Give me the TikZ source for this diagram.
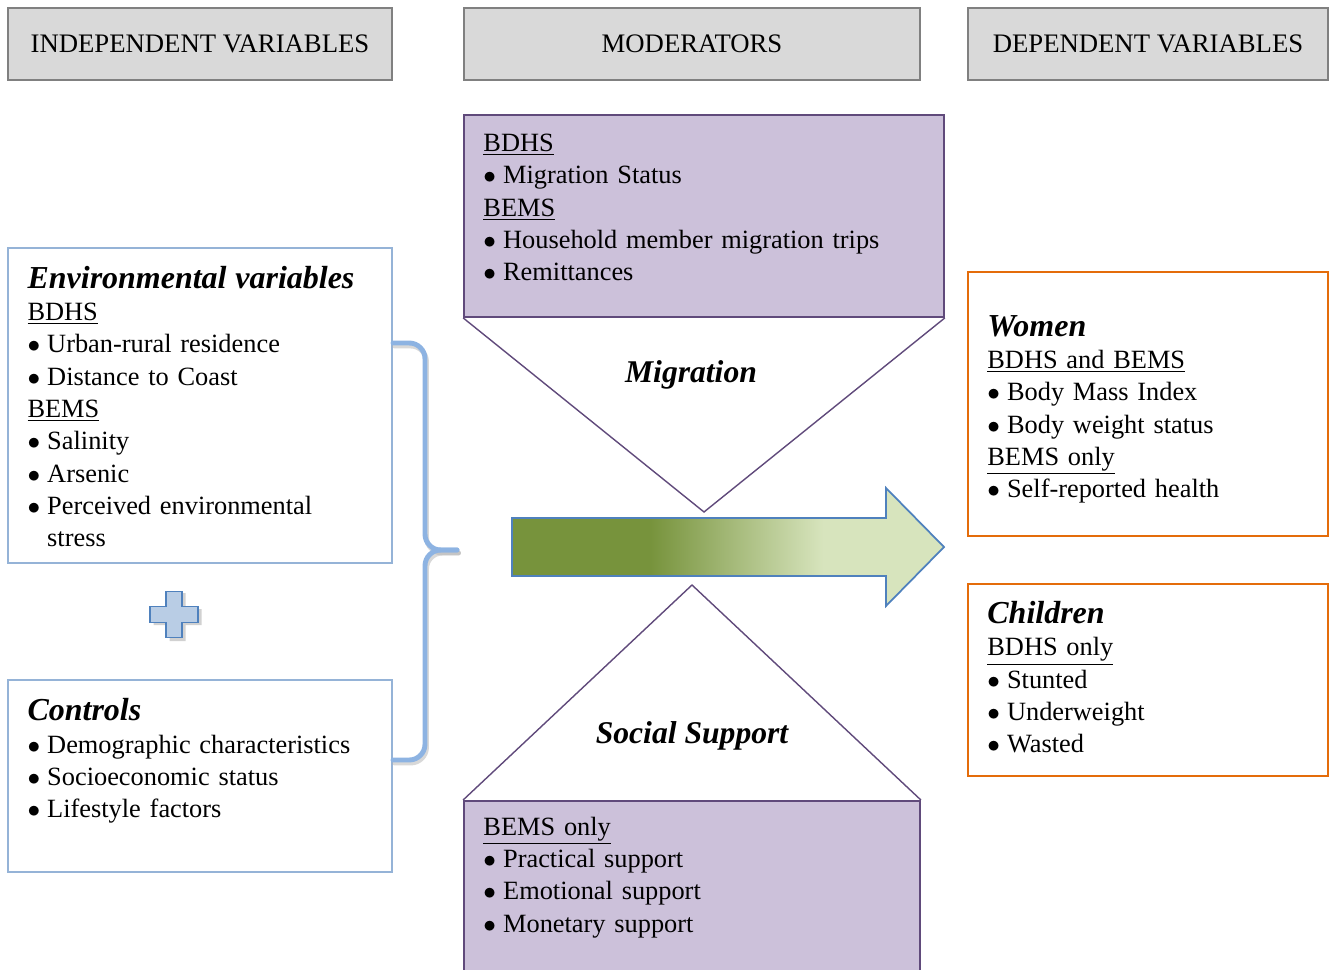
\documentclass[tikz,border=0pt]{standalone}
\usepackage{fontspec}
\setmainfont{Liberation Serif}
\usetikzlibrary{calc,positioning}

\definecolor{headgray}{HTML}{D9D9D9}
\definecolor{headline}{HTML}{808080}
\definecolor{envblue}{HTML}{95B3D7}
\definecolor{modfill}{HTML}{CCC1DA}
\definecolor{modline}{HTML}{604A7B}
\definecolor{outorange}{HTML}{E46C0A}
\definecolor{arrowdark}{HTML}{77933C}
\definecolor{arrowlight}{HTML}{D7E4BD}
\definecolor{arrowline}{HTML}{4F81BD}
\definecolor{bracecol}{HTML}{8DB3E2}
\definecolor{plusfill}{HTML}{B9CDE5}

\pgfdeclarehorizontalshading{pathway}{100bp}{color(0bp)=(arrowdark); color(41bp)=(arrowdark); color(51bp)=(arrowdark!50!arrowlight); color(61bp)=(arrowlight); color(100bp)=(arrowlight)}

\tikzstyle{header}=[rectangle, fill=headgray, draw=headline, line width=1pt, minimum height=1.44cm, font=\fontsize{15.2}{18}\selectfont, anchor=center]
\tikzstyle{envbox}=[rectangle, fill=white, draw=envblue, line width=0.9pt]
\tikzstyle{modbox}=[rectangle, fill=modfill, draw=modline, line width=1pt]
\tikzstyle{outbox}=[rectangle, fill=white, draw=outorange, line width=1.1pt]
\tikzstyle{listtext}=[anchor=base west, inner sep=0pt, align=left, text width=8.5cm, font=\fontsize{15}{18.4}\selectfont]
\tikzstyle{modedge}=[draw=modline, line width=0.8pt]
\tikzstyle{brace}=[draw=bracecol, line width=2.8pt, line cap=round, rounded corners=9pt]
\tikzstyle{annot}=[align=center, font=\fontsize{18}{20}\selectfont\bfseries\itshape]

\newcommand{\heading}[1]{{\fontsize{18.2}{18.4}\selectfont\bfseries\itshape #1}}
\newcommand{\bul}{\makebox[11.2pt][l]{$\bullet$}}

\begin{document}
\begin{tikzpicture}
	\useasboundingbox (0,0) rectangle (26.58,-19.4);

	% column titles
	\node[header, minimum width=7.68cm] (indep) at (4.0,-0.88) {INDEPENDENT VARIABLES};
	\node[header, minimum width=9.12cm] (moder) at (13.84,-0.88) {MODERATORS};
	\node[header, minimum width=7.2cm] (depen) at (22.96,-0.88) {DEPENDENT VARIABLES};

	% independent side
	\node[envbox, minimum width=7.68cm, minimum height=6.3cm] (envvars) at (4.0,-8.11) {};
	\node[envbox, minimum width=7.68cm, minimum height=3.84cm] (controls) at (4.0,-15.52) {};
	\node[listtext] (envtext) at ($(envvars.north west)+(0.4,-0.82)$) {\heading{Environmental variables}\\
		\underline{BDHS}\\
		\bul Urban-rural residence\\
		\bul Distance to Coast\\
		\underline{BEMS}\\
		\bul Salinity\\
		\bul Arsenic\\
		\bul Perceived environmental\\
		\hspace*{11.2pt}stress};
	\node[listtext] (ctrltext) at ($(controls.north west)+(0.4,-0.83)$) {\heading{Controls}\\
		\bul Demographic characteristics\\
		\bul Socioeconomic status\\
		\bul Lifestyle factors};

	% plus sign between the two boxes
	\coordinate (plus) at (3.48,-12.29);
	\fill[black, opacity=0.18] ($(plus)+(-0.13,0.5)$) ++(0.04,-0.07) -- ++(0.32,0) -- ++(0,-0.32) -- ++(0.32,0) -- ++(0,-0.32) -- ++(-0.32,0) -- ++(0,-0.32) -- ++(-0.32,0) -- ++(0,0.32) -- ++(-0.32,0) -- ++(0,0.32) -- ++(0.32,0) -- cycle;
	\filldraw[fill=plusfill, draw=arrowline, line width=1pt] ($(plus)+(-0.16,0.46)$) -- ++(0.32,0) -- ++(0,-0.3) -- ++(0.32,0) -- ++(0,-0.32) -- ++(-0.32,0) -- ++(0,-0.3) -- ++(-0.32,0) -- ++(0,0.3) -- ++(-0.32,0) -- ++(0,0.32) -- ++(0.32,0) -- cycle;

	% brace grouping both boxes
	\coordinate (bracetip) at (9.14,-11.0);
	\draw[brace, draw=black!30, opacity=0.5, shift={(0.03,-0.06)}] (7.86,-6.86) -- (8.5,-6.86) -- (8.5,-11.0) -- (9.14,-11.0);
	\draw[brace, draw=black!30, opacity=0.5, shift={(0.03,-0.06)}] (7.86,-15.2) -- (8.5,-15.2) -- (8.5,-11.0) -- (9.14,-11.0);
	\draw[brace] (7.86,-6.86) -- (8.5,-6.86) -- (8.5,-11.0) -- (bracetip);
	\draw[brace] (7.86,-15.2) -- (8.5,-15.2) -- (8.5,-11.0) -- (bracetip);

	% moderators
	\node[modbox, minimum width=9.6cm, minimum height=4.04cm] (migbox) at (14.08,-4.32) {};
	\coordinate (migtip) at (14.08,-10.24);
	\draw[modedge] (migbox.south west) -- (migtip) -- (migbox.south east);
	\node[listtext] (migtext) at ($(migbox.north west)+(0.4,-0.75)$) {\underline{BDHS}\\
		\bul Migration Status\\
		\underline{BEMS}\\
		\bul Household member migration trips\\
		\bul Remittances};
	\node[annot] (miglabel) at (13.82,-7.5) {Migration};

	\node[modbox, minimum width=9.12cm, minimum height=4.0cm, anchor=north] (supbox) at (13.84,-16.0) {};
	\coordinate (suptip) at (13.84,-11.7);
	\draw[modedge] (supbox.north west) -- (suptip) -- (supbox.north east);
	\node[listtext] (suptext) at ($(supbox.north west)+(0.4,-0.7)$) {\underline{BEMS only}\\
		\bul Practical support\\
		\bul Emotional support\\
		\bul Monetary support};
	\node[annot] (suplabel) at (13.84,-14.72) {Social Support};

	% main pathway arrow
	\shade[shading=pathway, draw=arrowline, line width=1pt] (10.24,-10.36) -- (17.72,-10.36) -- (17.72,-9.76) -- (18.88,-10.94) -- (17.72,-12.12) -- (17.72,-11.52) -- (10.24,-11.52) -- cycle;

	% outcomes
	\node[outbox, minimum width=7.2cm, minimum height=5.28cm] (women) at (22.96,-8.08) {};
	\node[outbox, minimum width=7.2cm, minimum height=3.84cm] (children) at (22.96,-13.6) {};
	\node[listtext] (womentext) at ($(women.north west)+(0.4,-1.3)$) {\heading{Women}\\
		\underline{BDHS and BEMS}\\
		\bul Body Mass Index\\
		\bul Body weight status\\
		\underline{BEMS only}\\
		\bul Self-reported health};
	\node[listtext] (childtext) at ($(children.north west)+(0.4,-0.81)$) {\heading{Children}\\
		\underline{BDHS only}\\
		\bul Stunted\\
		\bul Underweight\\
		\bul Wasted};
\end{tikzpicture}
\end{document}
